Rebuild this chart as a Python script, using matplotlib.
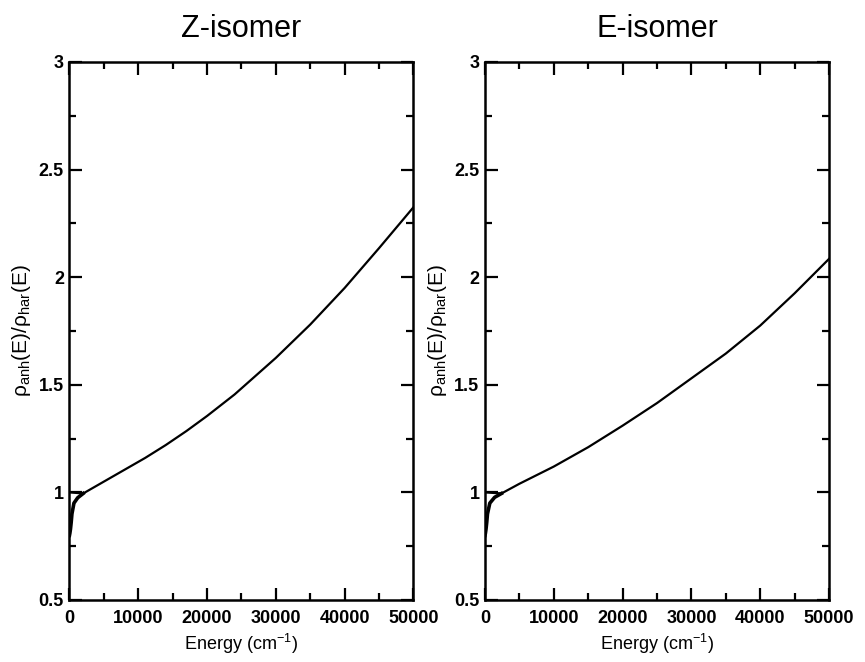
import matplotlib
matplotlib.use("Agg")
import matplotlib.pyplot as plt
from matplotlib.ticker import MultipleLocator

plt.rcParams['font.family'] = ['Liberation Sans', 'DejaVu Sans']
plt.rcParams['mathtext.default'] = 'regular'

# density-of-states ratio vs energy (cm^-1)
z_energy = [0, 2000, 5000, 8000, 11000, 14000, 17000, 20000, 24000, 27000,
            30000, 35000, 40000, 45000, 50000]
z_ratio = [1.0, 0.995, 1.05, 1.105, 1.16, 1.22, 1.285, 1.355, 1.455, 1.54,
           1.625, 1.78, 1.95, 2.135, 2.325]
# low-energy rise below 1
z_low_energy = [0, 60, 150, 250, 360, 650, 1200, 2000]
z_low_ratio = [0.80, 0.81, 0.83, 0.86, 0.90, 0.95, 0.975, 0.995]

e_energy = [0, 2400, 5000, 10000, 15000, 20000, 25000, 30000, 35000, 40000,
            45000, 50000]
e_ratio = [1.0, 0.995, 1.04, 1.12, 1.21, 1.31, 1.415, 1.53, 1.645, 1.775,
           1.925, 2.085]
e_low_energy = [0, 60, 150, 250, 360, 700, 1400, 2400]
e_low_ratio = [0.80, 0.81, 0.83, 0.86, 0.90, 0.95, 0.977, 0.995]

panels = [
    ("Z-isomer", z_energy, z_ratio, z_low_energy, z_low_ratio, 0.0803),
    ("E-isomer", e_energy, e_ratio, e_low_energy, e_low_ratio, 0.5607),
]

fig = plt.figure(figsize=(8.65, 6.62), dpi=100)

for title, en, ra, low_e, low_r, left in panels:
    ax = fig.add_axes([left, 0.0937, 0.3977, 0.8127])
    ax.plot(en, ra, color='black', lw=1.6)
    ax.plot(low_e, low_r, color='black', lw=2.6, solid_joinstyle='round')
    ax.set_xlim(0, 50000)
    ax.set_ylim(0.5, 3)
    ax.xaxis.set_major_locator(MultipleLocator(10000))
    ax.xaxis.set_minor_locator(MultipleLocator(5000))
    ax.yaxis.set_minor_locator(MultipleLocator(0.25))
    ax.set_yticks([0.5, 1, 1.5, 2, 2.5, 3])
    ax.set_yticklabels(['0.5', '1', '1.5', '2', '2.5', '3'])
    ax.tick_params(which='both', direction='in', top=True, right=True,
                   width=1.6)
    ax.tick_params(which='major', length=9, labelsize=13)
    ax.tick_params(which='minor', length=5)
    ax.tick_params(axis='x', which='major', pad=7)
    ax.tick_params(axis='y', which='major', pad=4)
    for lab in ax.get_xticklabels() + ax.get_yticklabels():
        lab.set_fontweight('bold')
    for sp in ax.spines.values():
        sp.set_linewidth(1.8)
    ax.set_title(title, fontsize=22, pad=18)
    ax.set_xlabel('Energy (cm$^{-1}$)', fontsize=13, labelpad=4)
    ax.set_ylabel(r'$\rho_{anh}(E)/\rho_{har}(E)$', fontsize=15, labelpad=4)

fig.savefig('out.png', dpi=100)
